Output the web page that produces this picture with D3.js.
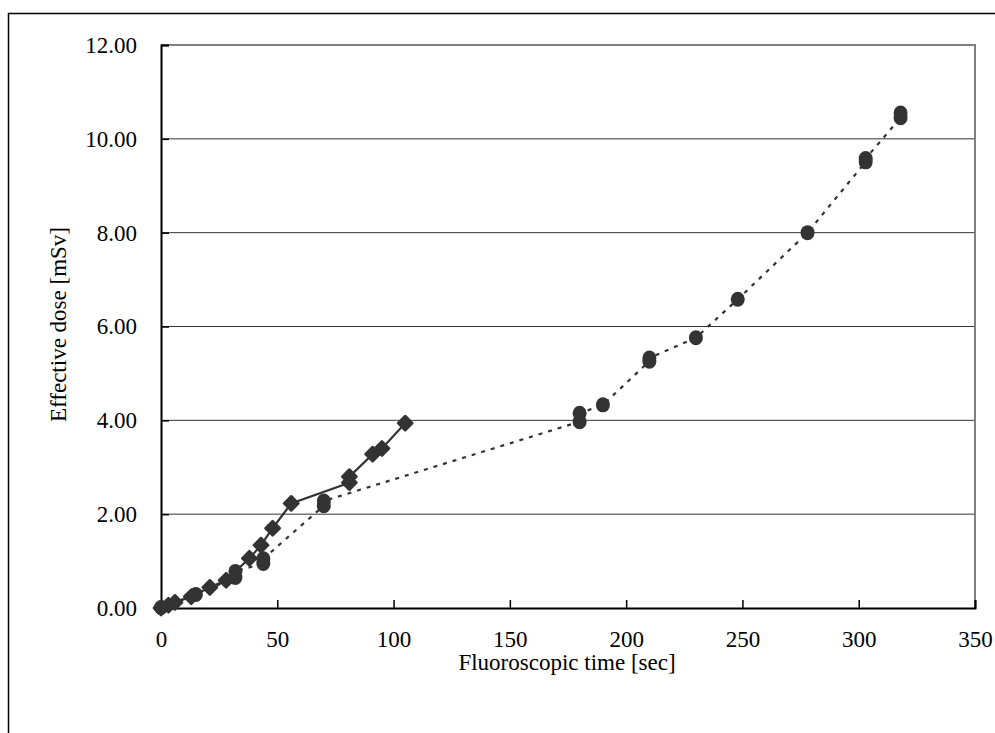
<!DOCTYPE html>
<html>
<head>
<meta charset="utf-8">
<script src="https://cdn.jsdelivr.net/npm/d3@7"></script>
<style>
  body { margin: 0; background: #fff; }
  svg text { font-family: "Liberation Serif", "Times New Roman", serif; fill: #000; }
</style>
</head>
<body>
<div id="chart"></div>
<script>
// diamond series (solid line)
const diamondTime = [0, 3.2, 6, 13, 21, 28, 38, 43, 48, 56, 81, 81, 91, 95, 105];
const diamondDose = [0, 0.06, 0.12, 0.24, 0.44, 0.59, 1.06, 1.34, 1.70, 2.23, 2.67, 2.80, 3.28, 3.40, 3.94];

// circle series (dotted line)
const circleTime = [0, 15, 32, 32, 44, 44, 70, 70, 180, 180, 190, 210, 210, 230, 248, 278, 303, 303, 318, 318];
const circleDose = [0.01, 0.29, 0.65, 0.78, 0.95, 1.05, 2.18, 2.28, 3.97, 4.15, 4.33, 5.26, 5.33, 5.76, 6.58, 8.00, 9.51, 9.58, 10.45, 10.55];

const xTicks = [0, 50, 100, 150, 200, 250, 300, 350];
const yTicks = [0, 2, 4, 6, 8, 10, 12];

const W = 995, H = 733;
const plot = { left: 161, right: 975, top: 45, bottom: 608 };
const ink = "#333";
const fontSize = 23;

const svg = d3.select("#chart").append("svg")
    .attr("width", W)
    .attr("height", H);

// outer frame (runs off the page on right/bottom)
svg.append("rect")
    .attr("x", 8.5).attr("y", 13.5)
    .attr("width", 1100).attr("height", 900)
    .attr("fill", "none")
    .attr("stroke", "#000")
    .attr("stroke-width", 1.5);

const x = d3.scaleLinear().domain([0, 350]).range([plot.left, plot.right]);
const y = d3.scaleLinear().domain([0, 12]).range([plot.bottom, plot.top]);

// gridlines
svg.append("g")
    .selectAll("line")
    .data(yTicks.filter(v => v > 0 && v < 12))
    .enter().append("line")
    .attr("x1", plot.left).attr("x2", plot.right)
    .attr("y1", d => y(d)).attr("y2", d => y(d))
    .attr("stroke", ink)
    .attr("stroke-width", 1);

// top and right border of plot area
svg.append("path")
    .attr("d", `M${plot.left},${plot.top}H${plot.right}V${plot.bottom}`)
    .attr("fill", "none")
    .attr("stroke", "#808080")
    .attr("stroke-width", 2);

// axes, ticks pointing inward
const xAxis = svg.append("g")
    .attr("transform", `translate(0,${plot.bottom})`)
    .call(d3.axisBottom(x).tickValues(xTicks).tickSize(-8).tickPadding(23).tickFormat(d3.format("d")));
const yAxis = svg.append("g")
    .attr("transform", `translate(${plot.left},0)`)
    .call(d3.axisLeft(y).tickValues(yTicks).tickSize(-8).tickPadding(24).tickFormat(d3.format(".2f")));

[xAxis, yAxis].forEach(a => {
    a.select(".domain").attr("stroke", "#000").attr("stroke-width", 2);
    a.selectAll(".tick line").attr("stroke", "#000").attr("stroke-width", 1.5);
    a.selectAll(".tick text")
        .style("font-family", '"Liberation Serif", serif')
        .attr("font-size", fontSize)
        .attr("fill", "#000");
});

// axis titles
svg.append("text")
    .attr("x", (plot.left + plot.right) / 2 - 1)
    .attr("y", 670)
    .attr("text-anchor", "middle")
    .attr("font-size", fontSize)
    .text("Fluoroscopic time [sec]");

svg.append("text")
    .attr("transform", `translate(66,${(plot.top + plot.bottom) / 2 - 2}) rotate(-90)`)
    .attr("text-anchor", "middle")
    .attr("font-size", fontSize)
    .text("Effective dose [mSv]");

const circles = circleTime.map((t, i) => ({ t, d: circleDose[i] }));
const diamonds = diamondTime.map((t, i) => ({ t, d: diamondDose[i] }));

const line = d3.line().x(p => x(p.t)).y(p => y(p.d));

// dotted series line
svg.append("path")
    .datum(circles)
    .attr("d", line)
    .attr("fill", "none")
    .attr("stroke", ink)
    .attr("stroke-width", 2.2)
    .attr("stroke-dasharray", "4,6");

// solid series line
svg.append("path")
    .datum(diamonds)
    .attr("d", line)
    .attr("fill", "none")
    .attr("stroke", ink)
    .attr("stroke-width", 2.2);

// markers
svg.append("g")
    .selectAll("ellipse")
    .data(circles)
    .enter().append("ellipse")
    .attr("cx", p => x(p.t))
    .attr("cy", p => y(p.d))
    .attr("rx", 7)
    .attr("ry", 7.5)
    .attr("fill", ink);

svg.append("g")
    .selectAll("path")
    .data(diamonds)
    .enter().append("path")
    .attr("transform", p => `translate(${x(p.t)},${y(p.d)})`)
    .attr("d", d3.symbol(d3.symbolDiamond2, 130))
    .attr("stroke", ink)
    .attr("stroke-width", 2.5)
    .attr("stroke-linejoin", "round")
    .attr("fill", ink);
</script>
</body>
</html>
